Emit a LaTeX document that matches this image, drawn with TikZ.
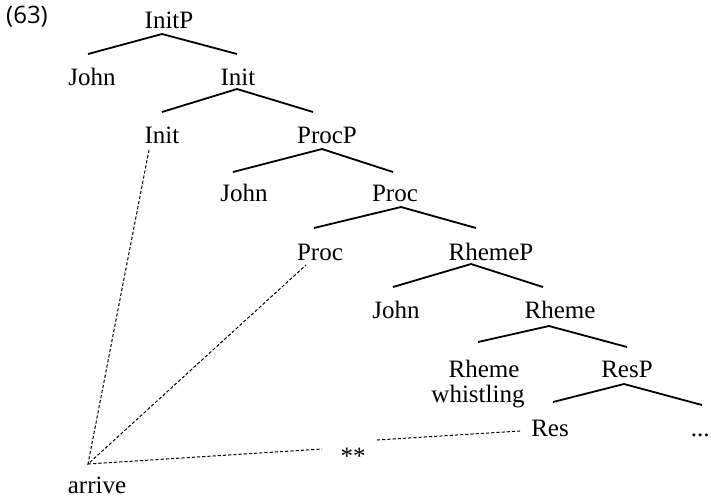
\documentclass[tikz,border=0pt]{standalone}
\usepackage{fontspec}
\setmainfont{Liberation Serif}
\newfontfamily\numfont{Open Sans}
\begin{document}
\begin{tikzpicture}[x=0.5pt,y=-0.5pt,
  lbl/.style={anchor=base,inner sep=0pt,font=\fontsize{12.5}{15}\selectfont},
  branch/.style={line width=0.9pt},
  trace/.style={line width=0.5pt,dash pattern=on 1.6pt off 1pt}]
\useasboundingbox (0,0) rectangle (711,500);
% labels
\node[anchor=base,inner sep=0pt,font=\numfont\fontsize{12}{14}\selectfont] (ex) at (27,23) {(63)};
\node[lbl] (initP) at (169,28) {InitP};
\node[lbl] (john1) at (92,85) {John};
\node[lbl] (init1) at (238,85) {Init};
\node[lbl] (init2) at (162,143) {Init};
\node[lbl] (procP) at (327,143) {ProcP};
\node[lbl] (john2) at (244,201) {John};
\node[lbl] (proc1) at (395,201) {Proc};
\node[lbl] (proc2) at (320,260) {Proc};
\node[lbl] (rhemeP) at (491,260) {RhemeP};
\node[lbl] (john3) at (396,318) {John};
\node[lbl] (rheme1) at (560,318) {Rheme};
\node[lbl] (rheme2) at (484,377) {Rheme};
\node[lbl] (resP) at (627,377) {ResP};
\node[lbl] (whist) at (478,402) {whistling};
\node[lbl] (res) at (550,436) {Res};
\node[lbl,anchor=base east] (dots) at (710,436) {...};
\node[lbl] (ast) at (353,464) {**};
\node[lbl] (arrive) at (97,493) {arrive};
% branch points
\coordinate (a1) at (162,34);  \coordinate (a1l) at (88,54);  \coordinate (a1r) at (237,54);
\coordinate (a2) at (237,89);  \coordinate (a2l) at (162,112); \coordinate (a2r) at (313,112);
\coordinate (a3) at (322,149); \coordinate (a3l) at (233,172); \coordinate (a3r) at (393,172);
\coordinate (a4) at (401,207); \coordinate (a4l) at (314,228); \coordinate (a4r) at (476,228);
\coordinate (a5) at (471,264); \coordinate (a5l) at (393,287); \coordinate (a5r) at (543,287);
\coordinate (a6) at (549,326); \coordinate (a6l) at (478,342); \coordinate (a6r) at (627,347);
\coordinate (a7) at (624,384); \coordinate (a7l) at (553,402); \coordinate (a7r) at (702,405);
\draw[branch] (a1l) -- (a1) -- (a1r);
\draw[branch] (a2l) -- (a2) -- (a2r);
\draw[branch] (a3l) -- (a3) -- (a3r);
\draw[branch] (a4l) -- (a4) -- (a4r);
\draw[branch] (a5l) -- (a5) -- (a5r);
\draw[branch] (a6l) -- (a6) -- (a6r);
\draw[branch] (a7l) -- (a7) -- (a7r);
% traces
\coordinate (root) at (88,464);
\coordinate (t1) at (149,150);
\coordinate (t2) at (306,265);
\coordinate (t3) at (520,431);
\coordinate (g1) at (322,449);
\coordinate (g2) at (377,440);
\draw[trace] (t1) -- (root) -- (t2);
\draw[trace] (root) -- (g1);
\draw[trace] (g2) -- (t3);
\end{tikzpicture}
\end{document}
